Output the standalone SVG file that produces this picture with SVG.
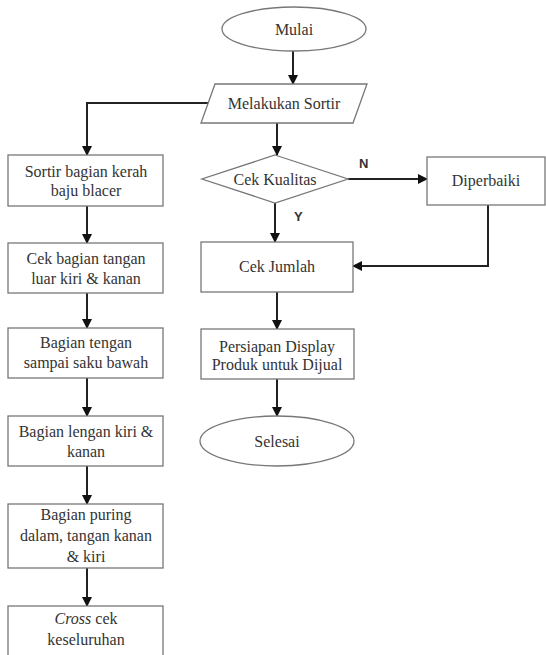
<svg xmlns="http://www.w3.org/2000/svg" width="546" height="655" viewBox="0 0 546 655">
<defs>
<marker id="ah" markerWidth="10" markerHeight="10" refX="9" refY="5" orient="auto" markerUnits="userSpaceOnUse">
<path d="M0,0 L10,5 L0,10 Z" fill="#111"/>
</marker>
<style>
.s{fill:#fff;stroke:#777;stroke-width:1.3}
.t{font-size:16px;fill:#333;text-anchor:middle}
.c{fill:none;stroke:#222;stroke-width:2;marker-end:url(#ah)}
.l{font-size:13px;font-weight:bold;fill:#333}
</style>
</defs>
<rect width="546" height="655" fill="#fff"/>
<g id="connectors">
<path class="c" d="M293,51 V84"/>
<path class="c" d="M210,103 H87 V155"/>
<path class="c" d="M277,123 V155"/>
<path class="c" d="M348,179 H427"/>
<path class="c" d="M275,203 V242"/>
<path class="c" d="M488,205 V266 H353"/>
<path class="c" d="M277,292 V329"/>
<path class="c" d="M277,379 V416"/>
<path class="c" d="M87,206 V243"/>
<path class="c" d="M87,293 V328"/>
<path class="c" d="M87,378 V416"/>
<path class="c" d="M87,466 V504"/>
<path class="c" d="M87,568 V606"/>
<g font-family="Liberation Sans">
<text class="l" x="359" y="168">N</text>
<text class="l" x="294" y="221">Y</text>
</g>
</g>
<g font-family="Liberation Serif">
<g id="mulai"><ellipse class="s" cx="294" cy="29" rx="72" ry="22"/><text class="t" x="294" y="35">Mulai</text></g>
<g id="sortir"><polygon class="s" points="215,84 367,84 353,123 201,123"/><text class="t" x="284" y="109">Melakukan Sortir</text></g>
<g id="kualitas"><polygon class="s" points="275,155 348,179 275,203 202,179"/><text class="t" x="275" y="185">Cek Kualitas</text></g>
<g id="diperbaiki"><rect class="s" x="427" y="157" width="118" height="48"/><text class="t" x="486" y="186">Diperbaiki</text></g>
<g id="jumlah"><rect class="s" x="201" y="242" width="152" height="50"/><text class="t" x="277" y="272">Cek Jumlah</text></g>
<g id="persiapan"><rect class="s" x="201" y="329" width="153" height="50"/><text class="t" x="277" y="352">Persiapan Display</text><text class="t" x="277" y="370">Produk untuk Dijual</text></g>
<g id="selesai"><ellipse class="s" cx="277" cy="441" rx="77" ry="25"/><text class="t" x="277" y="447">Selesai</text></g>
<g id="b1"><rect class="s" x="8" y="155" width="155" height="51"/><text class="t" x="86" y="177">Sortir bagian kerah</text><text class="t" x="86" y="196">baju blacer</text></g>
<g id="b2"><rect class="s" x="8" y="243" width="155" height="50"/><text class="t" x="86" y="264">Cek bagian tangan</text><text class="t" x="86" y="284">luar kiri &amp; kanan</text></g>
<g id="b3"><rect class="s" x="8" y="328" width="155" height="50"/><text class="t" x="86" y="348">Bagian tengan</text><text class="t" x="86" y="368">sampai saku bawah</text></g>
<g id="b4"><rect class="s" x="8" y="416" width="155" height="50"/><text class="t" x="86" y="437">Bagian lengan kiri &amp;</text><text class="t" x="86" y="457">kanan</text></g>
<g id="b5"><rect class="s" x="8" y="504" width="155" height="64"/><text class="t" x="86" y="520">Bagian puring</text><text class="t" x="86" y="541">dalam, tangan kanan</text><text class="t" x="86" y="562">&amp; kiri</text></g>
<g id="b6"><rect class="s" x="8" y="606" width="155" height="60"/><text class="t" x="86" y="624"><tspan font-style="italic">Cross</tspan> cek</text><text class="t" x="86" y="645">keseluruhan</text></g>
</g>
</svg>
